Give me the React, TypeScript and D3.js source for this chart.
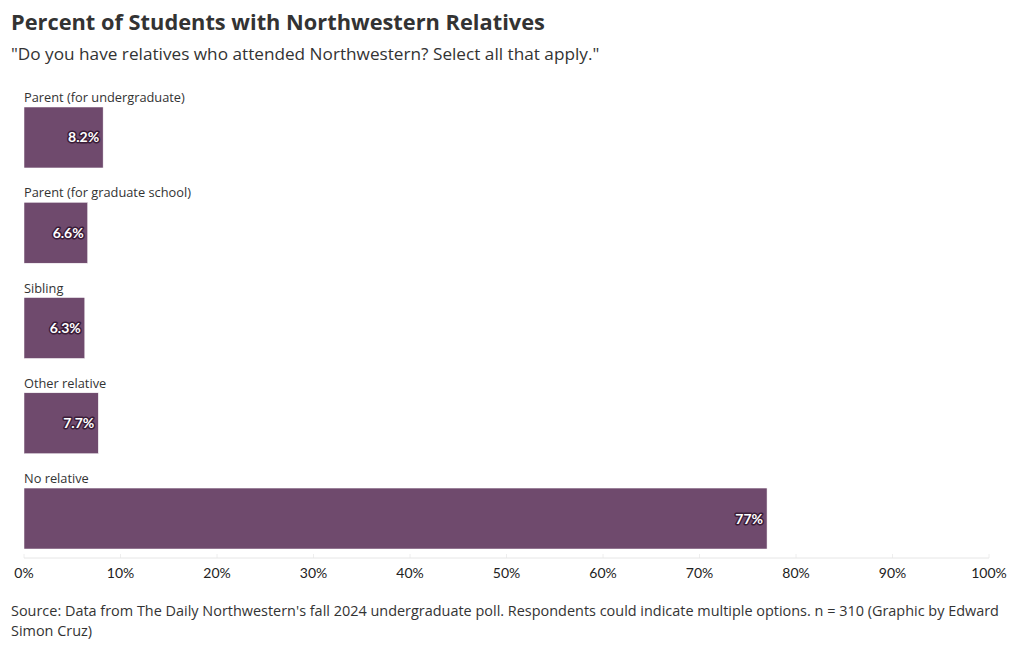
import React from "react";
import * as d3 from "d3";

const categories = [
  "Parent (for undergraduate)",
  "Parent (for graduate school)",
  "Sibling",
  "Other relative",
  "No relative",
];
const values = [8.2, 6.6, 6.3, 7.7, 77];
const valueLabels = ["8.2%", "6.6%", "6.3%", "7.7%", "77%"];
const tickValues = [0, 10, 20, 30, 40, 50, 60, 70, 80, 90, 100];

const width = 1020;
const height = 650;
const barColor = "#6f4a6d";
const font = "'Open Sans', Roboto, sans-serif";

export default function App() {
  const x = d3.scaleLinear().domain([0, 100]).range([24, 989]);
  const y = d3.scaleBand<string>().domain(categories).range([107, 549]).paddingInner(0.36);
  const axisY = 558;

  return (
    <svg
      width={width}
      height={height}
      style={{ position: "absolute", left: 0, top: 0, background: "#fff" }}
    >
      <text x={11} y={30} fontFamily={font} fontWeight={700} fontSize={21.8} fill="#333">
        Percent of Students with Northwestern Relatives
      </text>
      <text x={11} y={60} fontFamily={font} fontSize={17.2} fill="#333">
        "Do you have relatives who attended Northwestern? Select all that apply."
      </text>

      {tickValues.map((t) => (
        <line key={"g" + t} x1={x(t)} x2={x(t)} y1={axisY - 4} y2={axisY} stroke="#eee" />
      ))}
      <line x1={x(0)} x2={x(100)} y1={axisY} y2={axisY} stroke="#e6e6e6" />

      {categories.map((c, i) => {
        const by = y(c)!;
        return (
          <g key={c}>
            <text x={x(0)} y={by - 5} fontFamily={font} fontSize={12.8} fill="#333">
              {c}
            </text>
            <rect
              x={x(0)}
              y={by}
              width={x(values[i]) - x(0)}
              height={y.bandwidth()}
              fill={barColor}
              stroke="#fff"
              strokeWidth={0.5}
            />
            <text
              x={x(values[i]) - 4}
              y={by + y.bandwidth() / 2 + 5}
              textAnchor="end"
              fontFamily="Lato, sans-serif"
              fontWeight={700}
              fontSize={14}
              fill="#fff"
              stroke="#3a1d38"
              strokeWidth={3}
              strokeLinejoin="round"
              paintOrder="stroke"
            >
              {valueLabels[i]}
            </text>
          </g>
        );
      })}

      {tickValues.map((t) => (
        <text
          key={"t" + t}
          x={x(t)}
          y={578}
          textAnchor="middle"
          fontFamily="Lato, sans-serif"
          fontSize={14}
          fill="#222"
        >
          {t + "%"}
        </text>
      ))}

      <text x={11} y={616} fontFamily={font} fontSize={14.45} fill="#333">
        Source: Data from The Daily Northwestern's fall 2024 undergraduate poll. Respondents could indicate multiple options. n = 310 (Graphic by Edward
      </text>
      <text x={11} y={636} fontFamily={font} fontSize={14.45} fill="#333">
        Simon Cruz)
      </text>
    </svg>
  );
}
